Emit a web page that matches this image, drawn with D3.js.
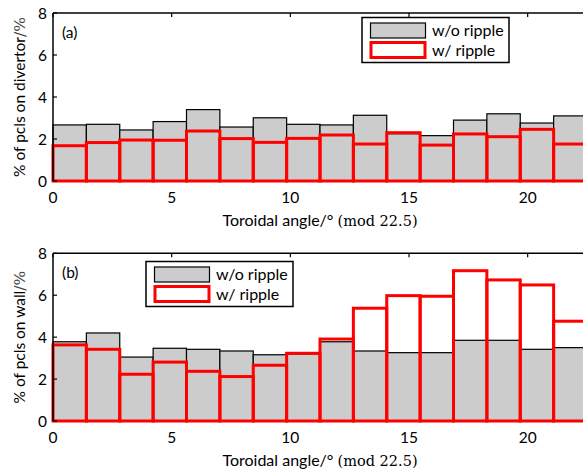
<!DOCTYPE html>
<html>
<head>
<meta charset="utf-8">
<script src="https://cdn.jsdelivr.net/npm/d3@7.9.0/dist/d3.min.js"></script>
<style>
  body { margin: 0; background: #fff; }
  svg { display: block; }
  text { font-family: Lato, "DejaVu Sans", sans-serif; fill: #000; }
</style>
</head>
<body>
<svg id="chart" width="583" height="469"></svg>
<script>
// toroidal angle bins (deg, mod 22.5) - 16 equal bins
const nBins = 16;
const angleMax = 22.5;
const xTicks = [0, 5, 10, 15, 20];
const yTicks = [0, 2, 4, 6, 8];

// % of particles on divertor
const divNoRipple = [2.67, 2.70, 2.43, 2.83, 3.40, 2.57, 3.01, 2.70, 2.67, 3.13, 2.25, 2.16, 2.90, 3.20, 2.76, 3.10];
const divRipple   = [1.68, 1.83, 1.95, 1.94, 2.38, 2.02, 1.84, 2.03, 2.19, 1.76, 2.30, 1.71, 2.24, 2.11, 2.46, 1.76];

// % of particles on wall
const wallNoRipple = [3.78, 4.20, 3.05, 3.47, 3.42, 3.34, 3.16, 3.20, 3.78, 3.34, 3.26, 3.26, 3.85, 3.85, 3.42, 3.50];
const wallRipple   = [3.63, 3.42, 2.23, 2.81, 2.37, 2.12, 2.66, 3.23, 3.91, 5.38, 5.98, 5.95, 7.17, 6.73, 6.49, 4.76];

const legendLabels = ['w/o ripple', 'w/ ripple'];

const svg = d3.select('#chart');
const binW = angleMax / nBins;

const x = d3.scaleLinear().domain([0, angleMax]).range([53, 587]);

function drawPanel(opts) {
  const y = d3.scaleLinear().domain([0, 8]).range([opts.y0, opts.y1]);
  const g = svg.append('g');

  // gray bars (w/o ripple)
  g.selectAll('rect.gray')
    .data(opts.gray)
    .join('rect')
    .attr('class', 'gray')
    .attr('x', (d, i) => x(i * binW))
    .attr('y', d => y(d))
    .attr('width', x(binW) - x(0))
    .attr('height', d => y(0) - y(d))
    .attr('fill', '#cccccc')
    .attr('stroke', '#000')
    .attr('stroke-width', 1.2);

  // red outlined bars (w/ ripple)
  g.selectAll('rect.red')
    .data(opts.red)
    .join('rect')
    .attr('class', 'red')
    .attr('x', (d, i) => x(i * binW))
    .attr('y', d => y(d))
    .attr('width', x(binW) - x(0))
    .attr('height', d => y(0) - y(d))
    .attr('fill', 'none')
    .attr('stroke', '#ff0000')
    .attr('stroke-width', 3);

  // spines
  g.append('line').attr('x1', x(0)).attr('x2', x(angleMax)).attr('y1', y(8)).attr('y2', y(8))
    .attr('stroke', '#000').attr('stroke-width', 1.5);
  g.append('line').attr('x1', x(0)).attr('x2', x(0)).attr('y1', y(0)).attr('y2', y(8))
    .attr('stroke', '#000').attr('stroke-width', 1.5);

  // ticks (inward)
  g.selectAll('line.xt')
    .data(xTicks)
    .join('line')
    .attr('x1', d => x(d)).attr('x2', d => x(d))
    .attr('y1', y(8)).attr('y2', y(8) + 4)
    .attr('stroke', '#000').attr('stroke-width', 1.2);
  g.selectAll('line.yt')
    .data(yTicks)
    .join('line')
    .attr('x1', x(0)).attr('x2', x(0) + 4)
    .attr('y1', d => y(d)).attr('y2', d => y(d))
    .attr('stroke', '#000').attr('stroke-width', 1.2);

  // tick labels
  g.selectAll('text.xl')
    .data(xTicks)
    .join('text')
    .attr('x', d => x(d))
    .attr('y', y(0) + 22)
    .attr('text-anchor', 'middle')
    .attr('font-size', 15.5)
    .text(d => d);
  g.selectAll('text.yl')
    .data(yTicks)
    .join('text')
    .attr('x', x(0) - 6)
    .attr('y', d => y(d) + 5.5)
    .attr('text-anchor', 'end')
    .attr('font-size', 15.5)
    .text(d => d);

  // x label
  const xl = g.append('text')
    .attr('x', 320)
    .attr('y', y(0) + 45)
    .attr('text-anchor', 'middle')
    .attr('font-size', 16);
  xl.append('tspan').text('Toroidal angle/\u00b0 ');
  xl.append('tspan').attr('font-family', '"DejaVu Serif", serif').attr('font-size', 14.5).text(' (mod 22.5)');

  // y label
  const yl = g.append('text')
    .attr('transform', `translate(25,${(y(0) + y(8)) / 2}) rotate(-90)`)
    .attr('text-anchor', 'middle')
    .attr('font-size', 15.5);
  yl.append('tspan').text(opts.ylabel);
  yl.append('tspan').attr('font-family', '"DejaVu Serif", serif').attr('fill', '#444').text('/%');

  // panel letter
  g.append('text')
    .attr('x', 62)
    .attr('y', y(8) + 25)
    .attr('font-size', 15.5)
    .text(opts.letter);

  // legend
  const lg = g.append('g').attr('transform', `translate(${opts.legX},${opts.legY})`);
  lg.append('rect').attr('width', 147).attr('height', 45)
    .attr('fill', '#fff').attr('stroke', '#000').attr('stroke-width', 1.5);
  lg.append('rect').attr('x', 8.5).attr('y', 5.5).attr('width', 55).attr('height', 15)
    .attr('fill', '#cccccc').attr('stroke', '#000').attr('stroke-width', 1.2);
  lg.append('rect').attr('x', 9).attr('y', 25).attr('width', 54).attr('height', 15)
    .attr('fill', '#fff').attr('stroke', '#ff0000').attr('stroke-width', 3);
  lg.selectAll('text.leg')
    .data(legendLabels)
    .join('text')
    .attr('x', 70)
    .attr('y', (d, i) => 18 + i * 20)
    .attr('font-size', 16)
    .text(d => d);
}

drawPanel({ y0: 181, y1: 13, gray: divNoRipple, red: divRipple,
  ylabel: '% of pcls on divertor', letter: '(a)', legX: 362, legY: 17.5 });
drawPanel({ y0: 421, y1: 253.3, gray: wallNoRipple, red: wallRipple,
  ylabel: '% of pcls on wall', letter: '(b)', legX: 146, legY: 261.5 });
</script>
</body>
</html>
